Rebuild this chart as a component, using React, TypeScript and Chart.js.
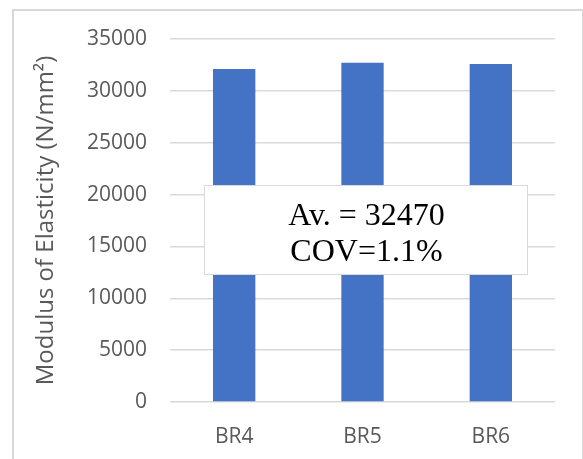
import React, { useEffect, useRef } from "react";
import { Chart, registerables } from "chart.js";

Chart.register(...registerables);

const categories = ["BR4", "BR5", "BR6"];
const modulusValues = [32100, 32700, 32600];
const yTicks = [0, 5000, 10000, 15000, 20000, 25000, 30000, 35000];
const yAxisTitle = "Modulus of Elasticity (N/mm\u00B2)";
const noteLines = ["Av. = 32470", "COV=1.1%"];

const noteBoxPlugin = {
  id: "noteBox",
  afterDraw(chart: any) {
    const ctx = chart.ctx;
    const a = chart.chartArea;
    const x0 = a.left + 34;
    const y0 = 185;
    const w = 323;
    const h = 89;
    ctx.save();
    ctx.fillStyle = "#ffffff";
    ctx.fillRect(x0, y0, w, h);
    ctx.strokeStyle = "#d9d9d9";
    ctx.lineWidth = 1;
    ctx.strokeRect(x0 + 0.5, y0 + 0.5, w, h);
    ctx.fillStyle = "#000000";
    ctx.font = '32px "Liberation Serif", "Times New Roman", serif';
    ctx.textAlign = "center";
    ctx.textBaseline = "alphabetic";
    const cx = x0 + w / 2 + 1;
    ctx.fillText(noteLines[0], cx, 225);
    ctx.fillText(noteLines[1], cx, 261);
    ctx.restore();
  },
};

export default function App() {
  const ref = useRef<HTMLCanvasElement | null>(null);

  useEffect(() => {
    document.body.style.margin = "0";
    document.body.style.overflow = "hidden";
    const canvas = ref.current;
    if (!canvas) return;
    const gray = "#595959";
    const tickFont = { family: '"Open Sans", sans-serif', size: 21 };
    const titleFont = { family: '"Open Sans", sans-serif', size: 24 };
    const chart = new Chart(canvas, {
      type: "bar",
      data: {
        labels: categories,
        datasets: [
          {
            data: modulusValues,
            backgroundColor: "#4472C4",
            borderWidth: 0,
            barPercentage: 0.33,
            categoryPercentage: 1,
          },
        ],
      },
      options: {
        animation: false,
        responsive: false,
        maintainAspectRatio: false,
        layout: { padding: { left: 0, right: 28, top: 39, bottom: 0 } },
        plugins: { legend: { display: false }, tooltip: { enabled: false } },
        scales: {
          x: {
            grid: { display: false, drawTicks: false },
            border: { display: false },
            ticks: { color: gray, font: tickFont, padding: 22 },
            afterFit(scale: any) {
              scale.height = 57;
            },
          },
          y: {
            min: 0,
            max: 35000,
            afterBuildTicks(scale: any) {
              scale.ticks = yTicks.map((v) => ({ value: v }));
            },
            grid: { color: "#d9d9d9", lineWidth: 1.5, drawTicks: false },
            border: { display: false },
            ticks: {
              color: gray,
              font: tickFont,
              padding: 23,
              callback: (v: any) => String(v),
            },
            title: {
              display: true,
              text: yAxisTitle,
              color: gray,
              font: titleFont,
              padding: { top: 32, bottom: 0 },
            },
            afterFit(scale: any) {
              scale.width = 170;
            },
          },
        },
      },
      plugins: [noteBoxPlugin],
    });
    return () => chart.destroy();
  }, []);

  return (
    <div style={{ position: "relative", width: 583, height: 459, overflow: "hidden", background: "#fff" }}>
      <canvas ref={ref} width={583} height={459} style={{ position: "absolute", left: 0, top: 0 }} />
      <div
        style={{
          position: "absolute",
          left: 12,
          top: 9,
          width: 568,
          height: 470,
          border: "2px solid #d9d9d9",
          pointerEvents: "none",
        }}
      />
    </div>
  );
}
